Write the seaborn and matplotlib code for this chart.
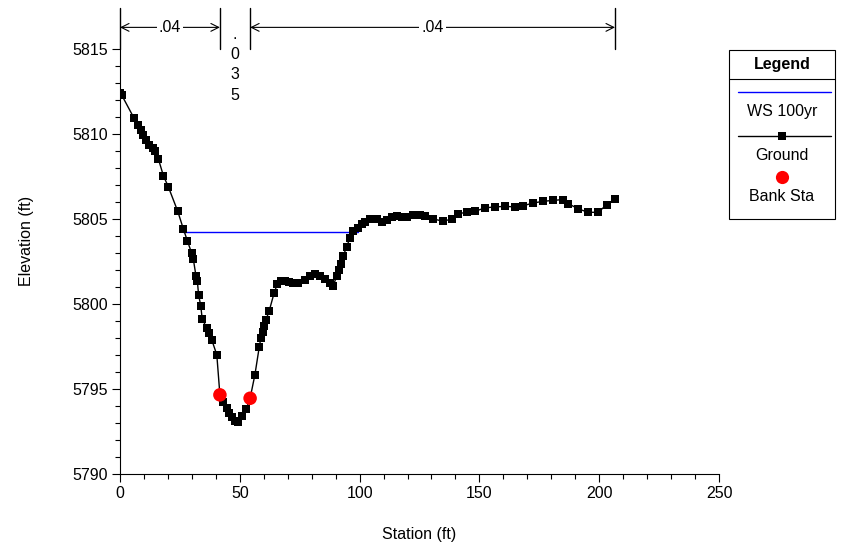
import numpy as np
import pandas as pd
import matplotlib
matplotlib.use("Agg")
import matplotlib.pyplot as plt
from matplotlib.lines import Line2D
from matplotlib.patches import Rectangle
from matplotlib.ticker import MultipleLocator
import seaborn as sns

# ---------------- data ----------------
ground_sta = [0.0, 0.8, 5.8, 7.6, 8.6, 9.7, 10.9, 12.2, 13.6, 14.6, 16.0, 18.1, 20.2,
              24.1, 26.4, 28.1, 29.9, 30.6, 31.7, 32.3, 32.8, 33.7, 34.3, 36.2, 37.3,
              38.3, 40.4, 41.7, 43.1, 44.5, 45.5, 46.6, 48.0, 49.2, 50.8, 52.6, 54.3,
              56.3, 58.1, 58.8, 59.7, 60.3, 60.9, 62.2, 64.3, 65.7, 67.1, 68.9, 70.7,
              72.3, 74.4, 77.2, 79.3, 81.4, 83.5, 85.6, 87.6, 89.0, 90.4, 91.2, 92.1,
              93.2, 94.6, 96.0, 97.4, 99.5, 100.9, 102.3, 104.3, 107.1, 109.2, 111.3,
              113.4, 115.5, 117.6, 119.7, 122.4, 125.2, 127.3, 130.8, 134.9, 138.4,
              141.2, 144.7, 148.2, 152.3, 156.5, 160.7, 164.9, 168.3, 172.5, 176.7,
              180.8, 184.8, 187.1, 191.3, 195.4, 199.6, 203.1, 206.6]
ground_elev = [5812.46, 5812.29, 5810.97, 5810.58, 5810.28, 5809.99, 5809.69, 5809.40,
               5809.20, 5809.00, 5808.56, 5807.57, 5806.90, 5805.47, 5804.45, 5803.74,
               5803.01, 5802.66, 5801.67, 5801.34, 5800.55, 5799.91, 5799.14, 5798.59,
               5798.30, 5797.90, 5797.02, 5794.66, 5794.26, 5793.87, 5793.60, 5793.38,
               5793.14, 5793.07, 5793.42, 5793.81, 5794.46, 5795.84, 5797.46, 5798.02,
               5798.37, 5798.73, 5799.08, 5799.57, 5800.65, 5801.20, 5801.34, 5801.34,
               5801.28, 5801.24, 5801.26, 5801.44, 5801.67, 5801.77, 5801.67, 5801.48,
               5801.24, 5801.06, 5801.67, 5802.03, 5802.38, 5802.85, 5803.38, 5803.92,
               5804.29, 5804.49, 5804.74, 5804.82, 5805.02, 5805.02, 5804.82, 5804.98,
               5805.14, 5805.21, 5805.14, 5805.14, 5805.24, 5805.27, 5805.21, 5805.02,
               5804.88, 5805.02, 5805.33, 5805.41, 5805.47, 5805.67, 5805.73, 5805.76,
               5805.73, 5805.80, 5805.96, 5806.06, 5806.11, 5806.16, 5805.92, 5805.61,
               5805.41, 5805.41, 5805.86, 5806.20]

ws_sta = [26.4, 99.5]
ws_elev = [5804.27, 5804.27]

bank_sta = [41.7, 54.3]
bank_elev = [5794.66, 5794.46]

n_breaks = [0.0, 41.7, 54.3, 206.6]
n_values = [".04", ".035", ".04"]

x_ticks = [0, 50, 100, 150, 200, 250]
y_ticks = [5790, 5795, 5800, 5805, 5810, 5815]

legend_labels = ["WS 100yr", "Ground", "Bank Sta"]

# ---------------- style ----------------
sns.set_theme(style="ticks")
plt.rcParams["font.family"] = ["Liberation Sans", "DejaVu Sans"]
plt.rcParams.update({"text.color": "black", "axes.labelcolor": "black",
                     "xtick.color": "black", "ytick.color": "black",
                     "axes.edgecolor": "black"})
FS = 11.5

fig = plt.figure(figsize=(8.55, 5.55), dpi=100)
ax = fig.add_axes([120 / 855, 1 - 474 / 555, (719 - 120) / 855, (474 - 7) / 555])

ground_df = pd.DataFrame({"Station": ground_sta, "Elevation": ground_elev})
ws_df = pd.DataFrame({"Station": ws_sta, "Elevation": ws_elev})
bank_df = pd.DataFrame({"Station": bank_sta, "Elevation": bank_elev})

sns.lineplot(data=ws_df, x="Station", y="Elevation", ax=ax, color="#0000ff",
             linewidth=1.0, sort=False, estimator=None, zorder=2)
sns.lineplot(data=ground_df, x="Station", y="Elevation", ax=ax, color="black",
             linewidth=1.0, marker="s", markersize=5.8, markeredgewidth=0,
             markerfacecolor="black", sort=False, estimator=None, zorder=3)
sns.scatterplot(data=bank_df, x="Station", y="Elevation", ax=ax, color="#ff0000",
                s=95, edgecolor="none", zorder=4)

ax.set_xlim(0, 250)
ax.set_ylim(5790, 5817.5)
ax.set_xticks(x_ticks)
ax.set_yticks(y_ticks)
ax.xaxis.set_minor_locator(MultipleLocator(10))
ax.yaxis.set_minor_locator(plt.FixedLocator(np.arange(5790, 5816, 1)))
ax.tick_params(axis="both", which="major", length=6, width=0.8, color="black",
               labelcolor="black", labelsize=FS, direction="out", pad=3)
ax.tick_params(axis="both", which="minor", length=3.5, width=0.8, color="black",
               direction="out")
for s in ["top", "right"]:
    ax.spines[s].set_visible(False)
for s in ["left", "bottom"]:
    ax.spines[s].set_color("black")
    ax.spines[s].set_linewidth(0.8)
ax.spines["left"].set_bounds(5790, 5815)

ax.set_xlabel("Station (ft)", fontsize=FS, labelpad=18, color="black")
ax.set_ylabel("Elevation (ft)", fontsize=FS, labelpad=27, color="black")
ax.grid(False)

# ---------------- n-value annotations ----------------
y_top = 5817.45
y_bot = 5815.0
y_arrow = 5816.3
for xb in n_breaks:
    ax.plot([xb, xb], [y_bot, y_top], color="black", lw=1.0, clip_on=False, zorder=5)
for i, val in enumerate(n_values):
    x0, x1 = n_breaks[i], n_breaks[i + 1]
    xm = (x0 + x1) / 2
    if (x1 - x0) > 20:
        ax.annotate("", xy=(x1, y_arrow), xytext=(x0, y_arrow),
                    arrowprops=dict(arrowstyle="<->", lw=0.8, color="black",
                                    shrinkA=0, shrinkB=0, mutation_scale=14),
                    annotation_clip=False)
        ax.text(xm, y_arrow, val, ha="center", va="center", fontsize=FS, color="black",
                bbox=dict(facecolor="white", edgecolor="none", pad=1.5), zorder=6)
    else:
        ax.text(xm, 5814.1, "\n".join(list(val)), ha="center", va="center",
                fontsize=FS, linespacing=1.45, color="black", zorder=6)

# ---------------- legend box ----------------
L, R = 729 / 855, 835 / 855
T, B = 1 - 50 / 555, 1 - 219 / 555
cx = (L + R) / 2
fig.patches.append(Rectangle((L, B), R - L, T - B, transform=fig.transFigure,
                             facecolor="white", edgecolor="black", lw=0.8))
fig.lines.append(Line2D([L, R], [1 - 79 / 555, 1 - 79 / 555], transform=fig.transFigure,
                        color="black", lw=0.8))
fig.text(cx, 1 - 64 / 555, "Legend", ha="center", va="center", fontsize=FS,
         fontweight="bold", color="black")
# WS
fig.lines.append(Line2D([L + 9 / 855, R - 4 / 855], [1 - 92 / 555] * 2,
                        transform=fig.transFigure, color="#0000ff", lw=1.0))
fig.text(cx, 1 - 112 / 555, legend_labels[0], ha="center", va="center", fontsize=FS,
         color="black")
# Ground
fig.lines.append(Line2D([L + 9 / 855, R - 4 / 855], [1 - 136 / 555] * 2,
                        transform=fig.transFigure, color="black", lw=1.0))
fig.lines.append(Line2D([cx], [1 - 136 / 555], transform=fig.transFigure, marker="s",
                        markersize=5.8, color="black", markeredgewidth=0, linestyle="none"))
fig.text(cx, 1 - 155 / 555, legend_labels[1], ha="center", va="center", fontsize=FS,
         color="black")
# Bank
fig.lines.append(Line2D([cx], [1 - 177 / 555], transform=fig.transFigure, marker="o",
                        markersize=9.5, color="#ff0000", markeredgewidth=0, linestyle="none"))
fig.text(cx, 1 - 197 / 555, legend_labels[2], ha="center", va="center", fontsize=FS,
         color="black")

fig.savefig("out.png", dpi=100, facecolor="white")
